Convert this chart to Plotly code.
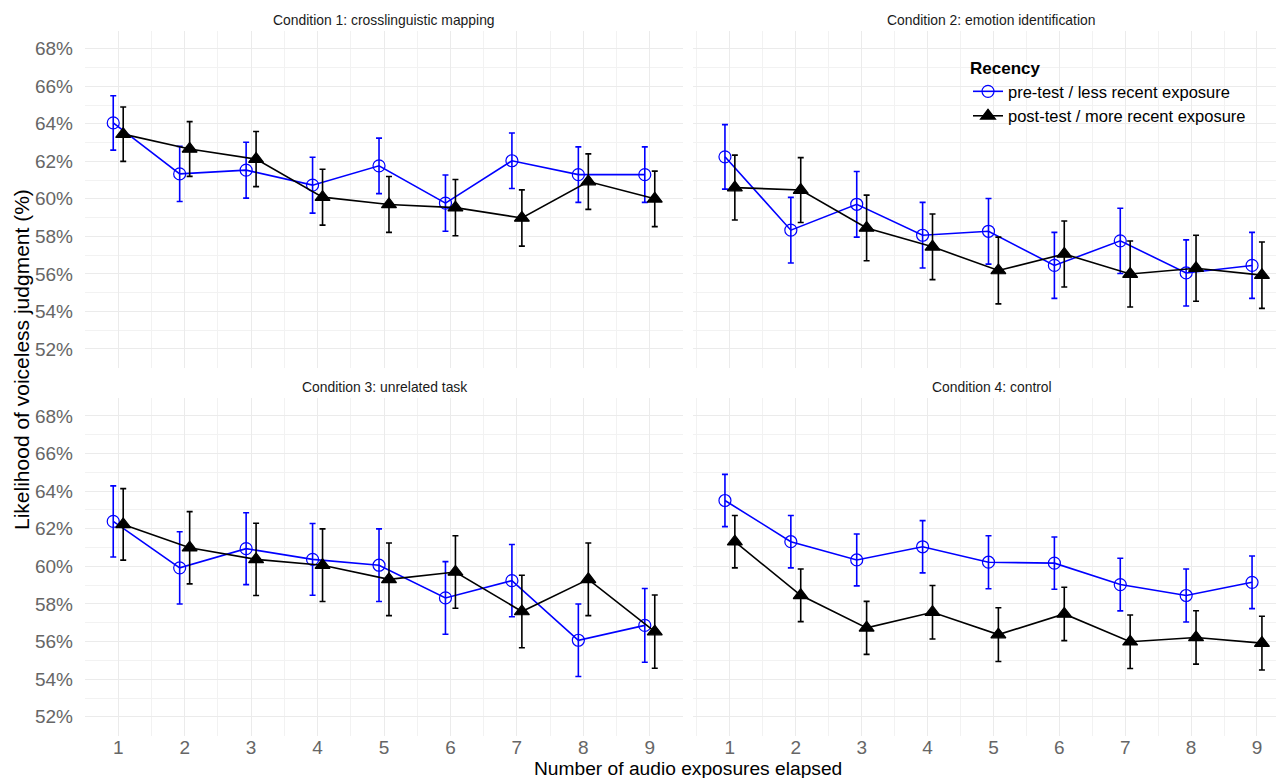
import plotly.graph_objects as go

exposures = [1, 2, 3, 4, 5, 6, 7, 8, 9]
conditions = ["Condition 1: crosslinguistic mapping", "Condition 2: emotion identification",
              "Condition 3: unrelated task", "Condition 4: control"]
series_names = ["pre-test / less recent exposure", "post-test / more recent exposure"]

# means (%) and error half-widths (%)
c1_pre = [64.05, 61.33, 61.53, 60.73, 61.76, 59.77, 62.03, 61.29, 61.29]
c1_pre_err = [1.45, 1.47, 1.49, 1.49, 1.48, 1.5, 1.48, 1.48, 1.48]
c1_post = [63.45, 62.66, 62.12, 60.09, 59.70, 59.53, 58.98, 60.92, 60.00]
c1_post_err = [1.45, 1.46, 1.47, 1.49, 1.49, 1.5, 1.5, 1.48, 1.48]

c2_pre = [62.24, 58.33, 59.71, 58.06, 58.27, 56.45, 57.76, 56.05, 56.45]
c2_pre_err = [1.72, 1.75, 1.75, 1.75, 1.75, 1.76, 1.74, 1.76, 1.76]
c2_post = [60.60, 60.47, 58.45, 57.44, 56.18, 57.06, 55.99, 56.30, 55.93]
c2_post_err = [1.73, 1.73, 1.75, 1.75, 1.78, 1.76, 1.76, 1.76, 1.77]

c3_pre = [62.39, 59.92, 60.94, 60.37, 60.06, 58.32, 59.24, 56.07, 56.86]
c3_pre_err = [1.89, 1.92, 1.91, 1.91, 1.93, 1.93, 1.92, 1.93, 1.96]
c3_post = [62.23, 60.99, 60.37, 60.06, 59.31, 59.70, 57.60, 59.31, 56.53]
c3_post_err = [1.9, 1.92, 1.92, 1.93, 1.93, 1.93, 1.93, 1.93, 1.95]

c4_pre = [63.50, 61.31, 60.34, 61.04, 60.22, 60.17, 59.03, 58.45, 59.15]
c4_pre_err = [1.39, 1.39, 1.38, 1.39, 1.41, 1.39, 1.4, 1.41, 1.4]
c4_post = [61.31, 58.46, 56.73, 57.56, 56.37, 57.47, 55.99, 56.22, 55.92]
c4_post_err = [1.39, 1.4, 1.41, 1.42, 1.43, 1.42, 1.42, 1.42, 1.43]

y_ticks = [52, 54, 56, 58, 60, 62, 64, 66, 68]
y_ticklabels = [f"{v}%" for v in y_ticks]
x_ticks = exposures

panel_data = [
    (c1_pre, c1_pre_err, c1_post, c1_post_err),
    (c2_pre, c2_pre_err, c2_post, c2_post_err),
    (c3_pre, c3_pre_err, c3_post, c3_post_err),
    (c4_pre, c4_pre_err, c4_post, c4_post_err),
]

dodge = 0.075
colors = ["#0000FF", "#000000"]
symbols = ["circle-open", "triangle-up"]
msizes = [12, 13]

FONT = "Liberation Sans, Arial, sans-serif"

fig = go.Figure()
for i, (pre, pre_e, post, post_e) in enumerate(panel_data):
    ax = "" if i == 0 else str(i + 1)
    for k, (vals, errs) in enumerate([(pre, pre_e), (post, post_e)]):
        off = -dodge if k == 0 else dodge
        fig.add_trace(go.Scatter(
            x=[e + off for e in exposures], y=vals,
            mode="lines+markers",
            name=series_names[k], showlegend=(i == 0),
            line=dict(color=colors[k], width=1.6),
            marker=dict(symbol=symbols[k], size=msizes[k], color=colors[k],
                        line=dict(color=colors[k], width=1.2)),
            error_y=dict(type="data", array=errs, visible=True, color=colors[k],
                         thickness=1.6, width=3),
            xaxis="x" + ax, yaxis="y" + ax,
        ))

# page has an 8px body margin: lay out in page pixels, shift into figure pixels
OFF = 8
W, H = 1284 - OFF, 778 - OFF
ml, mr, mt, mb = 85 - OFF, 0, 31 - OFF, 42
pw, ph = W - ml - mr, H - mt - mb

def px_x(p):
    return (p - OFF - ml) / pw

def px_y(p):
    return 1 - (p - OFF - mt) / ph

def xd(a, b):
    return [px_x(a), min(1.0, px_x(b))]

def yd(top, bot):
    return [px_y(bot), px_y(top)]

grid = dict(showgrid=True, gridcolor="#ebebeb", gridwidth=1.1, zeroline=False,
            showline=False, ticks="", automargin=False)
tickfont = dict(family=FONT, size=19, color="#666666")

xdoms = [xd(85, 683), xd(693, 1284), xd(85, 683), xd(693, 1284)]
xranges = [[0.5, 9.5], [0.44, 9.41], [0.5, 9.5], [0.44, 9.41]]
ydoms = [yd(31, 368), yd(31, 368), yd(398, 736), yd(398, 736)]
yrange = [50.98, 68.95]

layout = {}
for i in range(4):
    key = "" if i == 0 else str(i + 1)
    layout["xaxis" + key] = dict(
        domain=xdoms[i], range=xranges[i], anchor="y" + key,
        tickvals=x_ticks, showticklabels=(i >= 2), tickfont=tickfont,
        ticklabelstandoff=-2,
        minor=dict(showgrid=True, dtick=0.5, tick0=0.5, gridcolor="#f2f2f2", gridwidth=0.8),
        **grid)
    layout["yaxis" + key] = dict(
        domain=ydoms[i], range=yrange, anchor="x" + key,
        tickvals=y_ticks, ticktext=y_ticklabels, showticklabels=(i % 2 == 0),
        tickfont=tickfont, ticklabelstandoff=11,
        minor=dict(showgrid=True, dtick=1, tick0=51, gridcolor="#f2f2f2", gridwidth=0.8),
        **grid)

annotations = []
strip_font = dict(family=FONT, size=13.9, color="#1a1a1a")
for i in range(4):
    cx = (xdoms[i][0] + xdoms[i][1]) / 2 if i % 2 == 0 else (px_x(693) + px_x(1290)) / 2
    top = ydoms[i][1]
    annotations.append(dict(text=conditions[i], x=cx, y=top, xref="paper", yref="paper",
                            xanchor="center", yanchor="bottom", yshift=1,
                            showarrow=False, font=strip_font))

annotations.append(dict(text="Number of audio exposures elapsed", x=px_x(688), y=px_y(768),
                        xref="paper", yref="paper", xanchor="center", yanchor="middle",
                        showarrow=False, font=dict(family=FONT, size=19.2, color="#000000")))
annotations.append(dict(text="Likelihood of voiceless judgment (%)", x=px_x(21),
                        y=px_y(360), xref="paper", yref="paper",
                        xanchor="center", yanchor="middle", textangle=-90,
                        showarrow=False, font=dict(family=FONT, size=21, color="#000000")))

fig.update_layout(
    width=W, height=H,
    margin=dict(l=ml, r=mr, t=mt, b=mb, autoexpand=False),
    paper_bgcolor="white", plot_bgcolor="white",
    font=dict(family=FONT),
    annotations=annotations,
    legend=dict(
        title=dict(text="<b>Recency</b>", font=dict(family=FONT, size=17, color="#000000")),
        x=px_x(968), y=px_y(52), xanchor="left", yanchor="top",
        bgcolor="rgba(0,0,0,0)", font=dict(family=FONT, size=16.5, color="#000000"),
        tracegroupgap=0, itemwidth=30,
    ),
    **layout,
)

fig.write_html("out.html")
